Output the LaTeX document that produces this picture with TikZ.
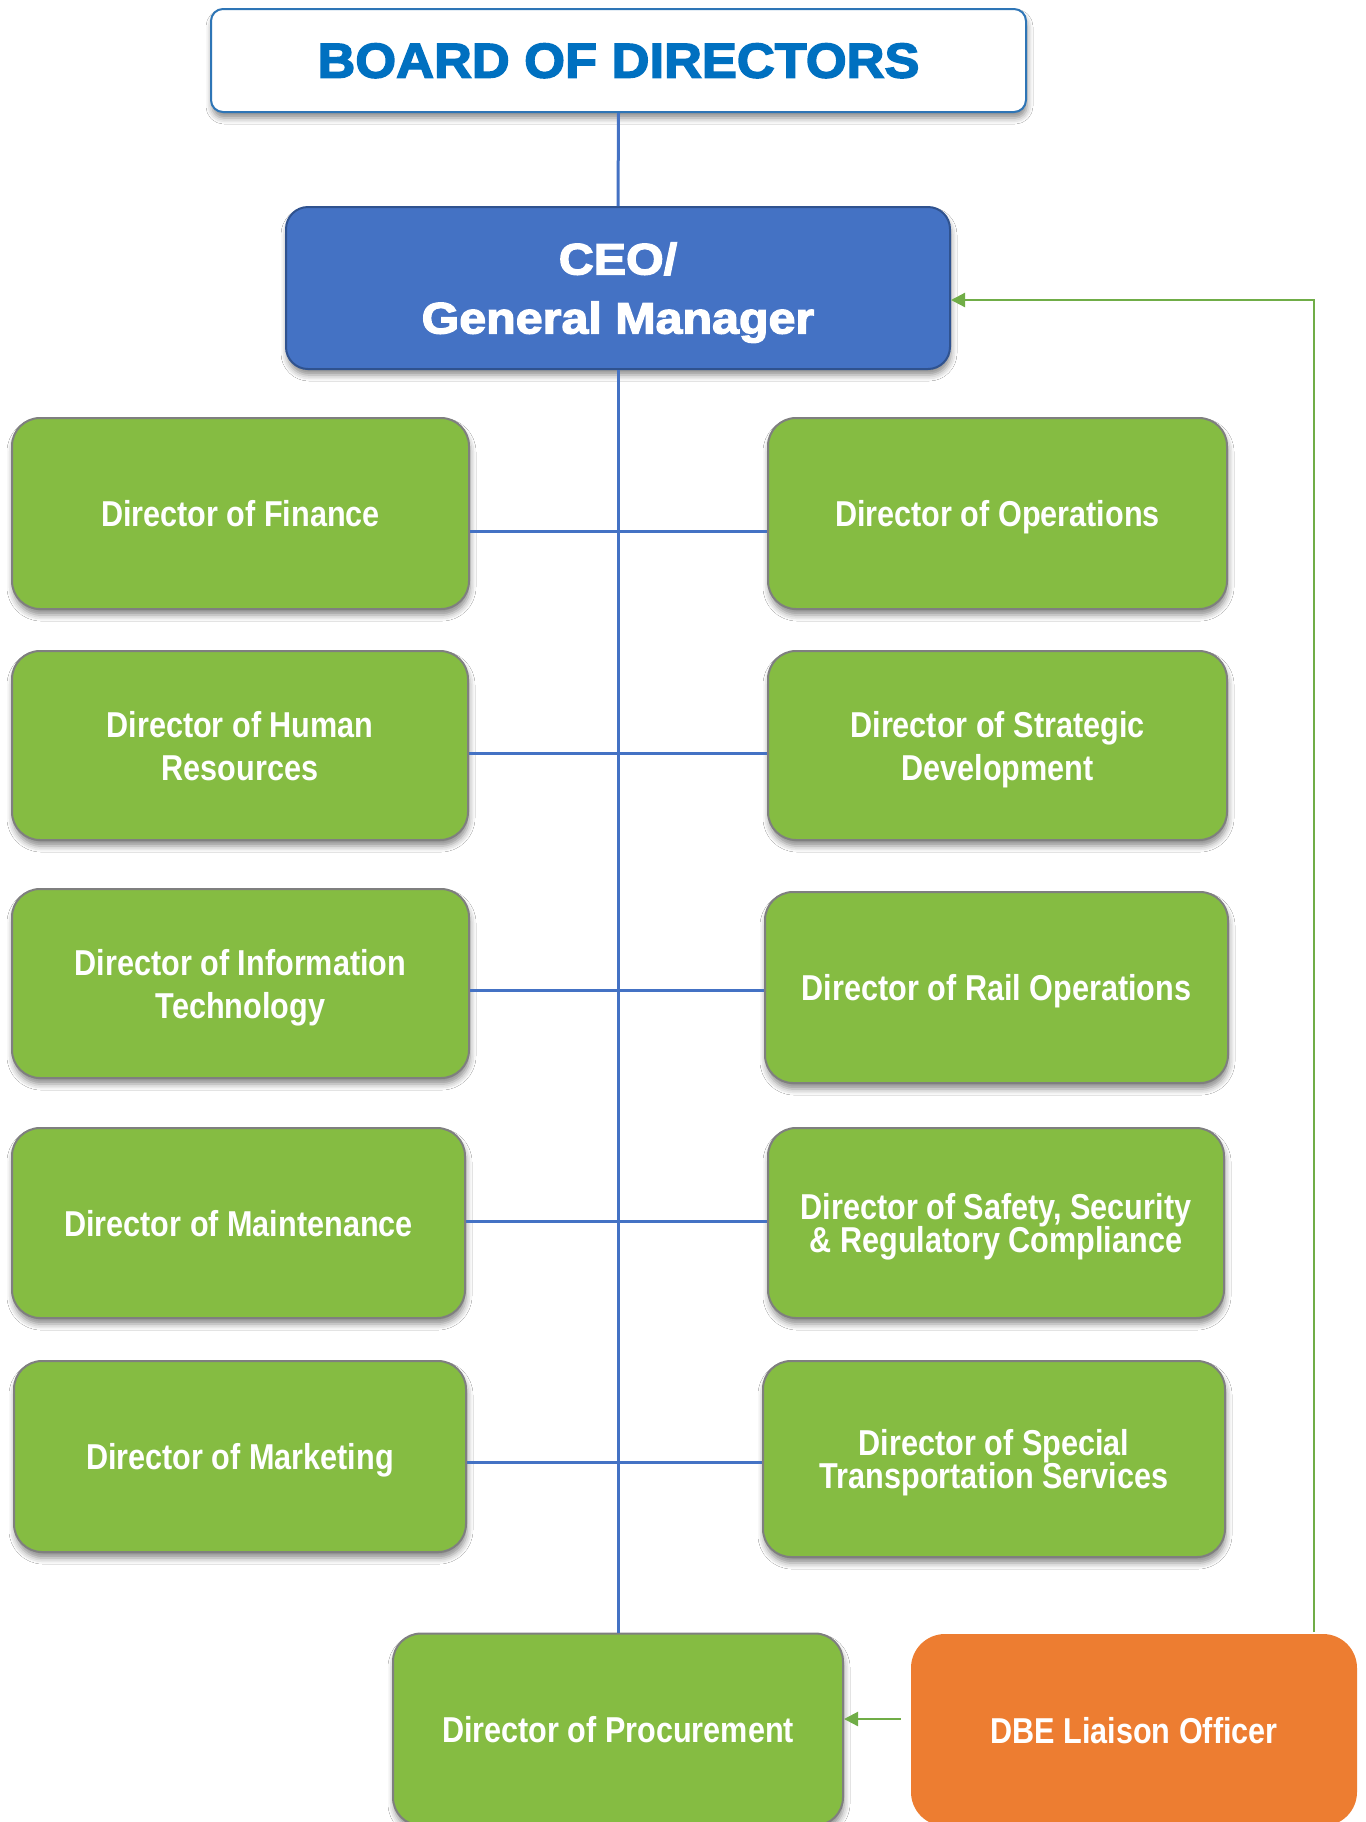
\documentclass[tikz,border=0pt]{standalone}
\usepackage{fontspec}
\setmainfont{Liberation Sans}
\newfontfamily\narrowfont[FakeStretch=0.85]{Liberation Sans}
\newfontfamily\heavyfont[FakeStretch=1.07,FakeBold=3]{Liberation Sans}
\newfontfamily\heavyceofont[FakeStretch=1.1,FakeBold=3]{Liberation Sans}
\newcommand\tightlinesfont{\narrowfont\bfseries\fontsize{18}{16.3}\selectfont\lineskiplimit=-30pt\lineskip=0pt\relax}
\usetikzlibrary{shadows.blur,arrows.meta}
\definecolor{gfill}{HTML}{85BC42}
\definecolor{gborder}{HTML}{7F7F7F}
\definecolor{ceofill}{HTML}{4472C4}
\definecolor{ceoborder}{HTML}{2F528F}
\definecolor{boardtext}{HTML}{0070C0}
\definecolor{boardborder}{HTML}{2E75B6}
\definecolor{linkblue}{HTML}{4472C4}
\definecolor{linkgreen}{HTML}{70AD47}
\definecolor{dbefill}{HTML}{ED7D31}
\tikzset{
  sz/.style 2 args={minimum width=#1*0.5pt, minimum height=#2*0.5pt},
  shad/.style={blur shadow={shadow xshift=0.5pt, shadow yshift=-3pt, shadow blur radius=3pt, shadow opacity=45}},
  dirbox/.style={draw=gborder, line width=1pt, fill=gfill, rounded corners=14pt, shad,
    text=white, align=center, inner sep=0pt, text depth=0pt,
    font=\narrowfont\bfseries\fontsize{18}{21.5}\selectfont},
  tightbox/.style={dirbox, font=\tightlinesfont},
  ceobox/.style={draw=ceoborder, line width=1pt, fill=ceofill, rounded corners=11pt, shad,
    text=white, align=center, inner sep=0pt, text depth=0pt,
    font=\heavyceofont\bfseries\fontsize{22}{29.5}\selectfont},
  boardbox/.style={draw=boardborder, line width=1pt, fill=white, rounded corners=6pt, shad,
    text=boardtext, align=center, inner sep=0pt, text depth=0pt,
    font=\heavyfont\bfseries\fontsize{24.5}{29}\selectfont},
  dbebox/.style={fill=dbefill, rounded corners=17pt, text=white, align=center, inner sep=0pt,
    text depth=0pt, font=\narrowfont\bfseries\fontsize{18}{21.5}\selectfont},
  bline/.style={draw=linkblue, line width=1.5pt},
  garrow/.style={draw=linkgreen, line width=1.1pt, -{Triangle[length=7pt,width=7pt]}},
}
\begin{document}
\begin{tikzpicture}[x=0.5pt,y=-0.5pt]
\useasboundingbox (0,0) rectangle (1366,1822);
\fill[white] (0,0) rectangle (1366,1822);

% top
\node[boardbox, sz={815}{103}] (board) at (618.5,60.5) {BOARD OF DIRECTORS};
\node[ceobox, sz={664}{162}] (ceo) at (618,288) {CEO/\\General Manager};

% left column
\node[dirbox, sz={457}{191}] (fin) at (240.5,513.5) {Director of Finance};
\node[dirbox, sz={456}{189}] (hr) at (240,745.5) {Director of Human\\Resources};
\node[dirbox, sz={457}{189}] (it) at (240.5,983.5) {Director of Information\\Technology};
\node[dirbox, sz={453}{190}] (maint) at (238.5,1223) {Director of Maintenance};
\node[dirbox, sz={452}{191}] (mkt) at (240,1456.5) {Director of Marketing};

% right column
\node[dirbox, sz={459}{191}] (ops) at (997.5,513.5) {Director of Operations};
\node[dirbox, sz={459}{189}] (strat) at (997.5,745.5) {Director of Strategic\\Development};
\node[dirbox, sz={463}{191}] (rail) at (996.5,987.5) {Director of Rail Operations};
\node[tightbox, sz={456}{190}] (safety) at (996,1223) {Director of Safety, Security\\\& Regulatory Compliance};
\node[tightbox, sz={462}{196}] (special) at (994,1459) {Director of Special\\Transportation Services};

% bottom
\node[dirbox, sz={450}{192}] (proc) at (618,1729.5) {Director of Procurement};
\node[dbebox, sz={446}{192}] (dbe) at (1134,1730) {DBE Liaison Officer};

% spine coordinates
\coordinate (c1) at (618,531);
\coordinate (c2) at (618,753);
\coordinate (c3) at (618,990);
\coordinate (c4) at (618,1221);
\coordinate (c5) at (618,1462);
\coordinate (ga) at (1314,1632);
\coordinate (gb) at (1314,300);
\coordinate (pa) at (0,1719);

% connectors
\draw[bline] (board.south) -- (ceo.north);
\draw[bline] (ceo.south) -- (proc.north);
\draw[bline] (fin.east |- c1) -- (ops.west |- c1);
\draw[bline] (hr.east |- c2) -- (strat.west |- c2);
\draw[bline] (it.east |- c3) -- (rail.west |- c3);
\draw[bline] (maint.east |- c4) -- (safety.west |- c4);
\draw[bline] (mkt.east |- c5) -- (special.west |- c5);

\draw[garrow] (ga) -- (gb) -- (ceo.east |- gb);
\draw[garrow] ([xshift=-5pt]dbe.west |- pa) -- (proc.east |- pa);
\end{tikzpicture}
\end{document}
